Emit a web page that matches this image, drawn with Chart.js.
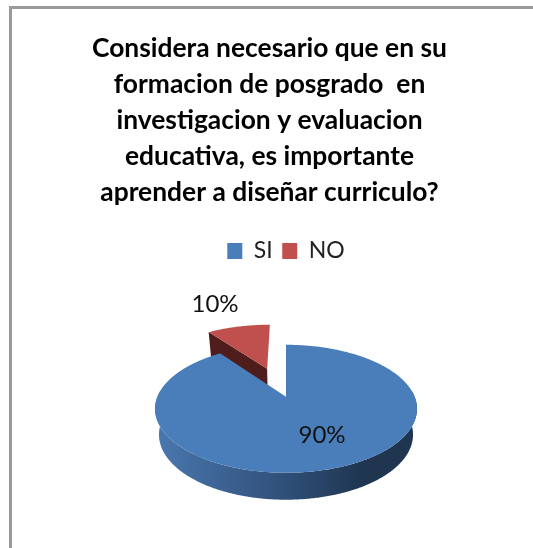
<!DOCTYPE html>
<html>
<head>
<meta charset="utf-8">
<script src="https://cdn.jsdelivr.net/npm/chart.js@4"></script>
<style>
  html, body { margin: 0; background: #fff; overflow: hidden; }
  #marco { position: absolute; left: 9px; top: 6px; width: 530px; height: 560px;
           border-left: 3px solid #9a9a9a; border-top: 3px solid #9a9a9a; }
  #grafico { position: absolute; left: 0; top: 0; }
</style>
</head>
<body>
<div id="marco"></div>
<canvas id="grafico" width="533" height="548"></canvas>
<script>
var titulo = [
  'Considera necesario que en su',
  'formacion de posgrado  en',
  'investigacion y evaluacion',
  'educativa, es importante',
  'aprender a diseñar curriculo?'
];
var categorias = ['SI', 'NO'];
var valores = [90, 10];
var colores = ['#4a7ebb', '#c0504d'];
var desplazados = [0, 68];

// label centres, relative to the pie centre
var posEtiquetas = [[36, 38], [-71, -93]];

// tilt of the pie: perspective k, vertical squash b, width a, thickness d
var K = 0.1875, B = 0.4714, A = 0.982, D = 25.6;

function proyectar(arc, px, py, h) {
  var s = py / arc.outerRadius;
  var den = 1 - K * s;
  return [
    arc.x + A * px / den * (1 - 0.03 * h),
    arc.y + B * arc.outerRadius * s / den + h * D / (1 - 0.05 * s)
  ];
}

function puntoBorde(arc, ang, h) {
  var o = arcoOffset(arc);
  return proyectar(arc, o[0] + Math.cos(ang) * arc.outerRadius, o[1] + Math.sin(ang) * arc.outerRadius, h);
}

function arcoOffset(arc) {
  var mid = (arc.startAngle + arc.endAngle) / 2;
  return [Math.cos(mid) * arc.options.offset, Math.sin(mid) * arc.options.offset];
}

function caraSuperior(ctx, arc) {
  var o = arcoOffset(arc);
  var c = proyectar(arc, o[0], o[1], 0);
  ctx.beginPath();
  ctx.moveTo(c[0], c[1]);
  for (var a = arc.startAngle; a < arc.endAngle; a += 0.01) {
    var p = puntoBorde(arc, a, 0);
    ctx.lineTo(p[0], p[1]);
  }
  var f = puntoBorde(arc, arc.endAngle, 0);
  ctx.lineTo(f[0], f[1]);
  ctx.closePath();
  ctx.fillStyle = arc.options.backgroundColor;
  ctx.fill();
}

// front wall of a slice, only the part of the rim that faces the viewer
function paredFrontal(ctx, arc) {
  var g = ctx.createLinearGradient(arc.x - arc.outerRadius, 0, arc.x + arc.outerRadius, 0);
  g.addColorStop(0, '#4a78b0');
  g.addColorStop(0.5, '#2f4f77');
  g.addColorStop(0.8, '#1f3550');
  g.addColorStop(1, '#1f3550');
  var ini = Math.max(arc.startAngle, -0.1), fin = Math.min(arc.endAngle, Math.PI + 0.1);
  var a, p;
  ctx.beginPath();
  for (a = ini; a <= fin; a += 0.01) {
    p = puntoBorde(arc, a, 0);
    ctx.lineTo(p[0], p[1]);
  }
  for (a = fin; a >= ini; a -= 0.01) {
    p = puntoBorde(arc, a, 1);
    ctx.lineTo(p[0], p[1]);
  }
  ctx.closePath();
  ctx.fillStyle = g;
  ctx.fill();
}

// cut wall of the pulled out slice, running from the centre to its first edge
function paredCorte(ctx, arc) {
  var o = arcoOffset(arc);
  var c0 = proyectar(arc, o[0], o[1], 0), c1 = proyectar(arc, o[0], o[1], 1);
  var b0 = puntoBorde(arc, arc.startAngle, 0), b1 = puntoBorde(arc, arc.startAngle, 1);
  ctx.beginPath();
  ctx.moveTo(c0[0], c0[1]);
  ctx.lineTo(b0[0], b0[1]);
  ctx.lineTo(b1[0], b1[1]);
  ctx.lineTo(c1[0], c1[1]);
  ctx.closePath();
  ctx.fillStyle = '#4f1e1c';
  ctx.fill();
}

var pastel3d = {
  id: 'pastel3d',
  afterLayout: function(chart) {
    chart.titleBlock.left -= 16.5;
    chart.titleBlock.right -= 16.5;
  },
  beforeDatasetsDraw: function(chart) {
    var ctx = chart.ctx;
    var arcos = chart.getDatasetMeta(0).data;
    ctx.save();
    paredCorte(ctx, arcos[1]);
    caraSuperior(ctx, arcos[1]);
    paredFrontal(ctx, arcos[0]);
    caraSuperior(ctx, arcos[0]);
    ctx.fillStyle = '#111';
    ctx.font = '24px Lato';
    ctx.textAlign = 'center';
    ctx.textBaseline = 'middle';
    valores.forEach(function(v, i) {
      ctx.fillText(v + '%', arcos[0].x + posEtiquetas[i][0], arcos[0].y + posEtiquetas[i][1]);
    });
    ctx.restore();
    return false;
  }
};

new Chart(document.getElementById('grafico'), {
  type: 'pie',
  data: {
    labels: categorias,
    datasets: [{
      data: valores,
      backgroundColor: colores,
      borderWidth: 0,
      offset: desplazados
    }]
  },
  options: {
    responsive: false,
    animation: false,
    events: [],
    radius: 131,
    layout: { padding: { left: 39, right: 0, top: 12, bottom: 27 } },
    plugins: {
      title: {
        display: true,
        text: titulo,
        color: '#000',
        font: { family: 'Lato', size: 26.4, weight: 'bold', lineHeight: 1.364 },
        padding: { top: 18, bottom: 20 }
      },
      legend: {
        position: 'top',
        labels: {
          color: '#222',
          font: { family: 'Lato', size: 23 },
          boxWidth: 15,
          boxHeight: 16,
          padding: 9.5
        }
      },
      tooltip: { enabled: false }
    }
  },
  plugins: [pastel3d]
});
</script>
</body>
</html>
